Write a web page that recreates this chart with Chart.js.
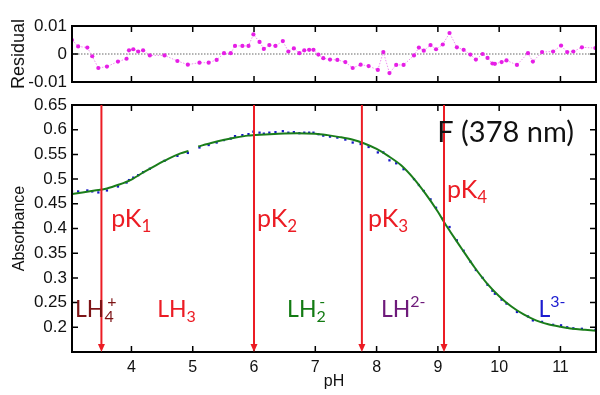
<!DOCTYPE html>
<html>
<head>
<meta charset="utf-8">
<script src="https://cdn.jsdelivr.net/npm/chart.js@4/dist/chart.umd.min.js"></script>
<style>
  body { margin: 0; background: #fff; }
  #wrap { position: relative; width: 600px; height: 395px; }
  #resid { position: absolute; left: 0; top: 0; }
  #main { position: absolute; left: 0; top: 90px; }
</style>
</head>
<body>
<div id="wrap">
  <canvas id="resid" width="600" height="95"></canvas>
  <canvas id="main" width="600" height="305"></canvas>
</div>
<script>
// measured points (pH, absorbance) and residuals
const dataPH = [3.03, 3.13, 3.28, 3.36, 3.46, 3.60, 3.78, 3.92, 3.96, 4.03, 4.11, 4.19, 4.30, 4.54, 4.75, 4.92,
  5.11, 5.26, 5.39, 5.51, 5.62, 5.69, 5.81, 5.91, 5.99, 6.09, 6.16, 6.25, 6.35, 6.47, 6.56, 6.65, 6.74, 6.82,
  6.90, 6.97, 7.05, 7.13, 7.24, 7.36, 7.49, 7.61, 7.74, 7.87, 8.02, 8.11, 8.21, 8.32, 8.44, 8.61, 8.69, 8.77,
  8.88, 8.97, 9.08, 9.19, 9.31, 9.42, 9.53, 9.62, 9.73, 9.81, 9.89, 9.93, 10.04, 10.12, 10.29, 10.47, 10.55,
  10.70, 10.88, 11.01, 11.11, 11.21, 11.35, 11.57];
const dataAbs = [0.475, 0.475, 0.477, 0.475, 0.473, 0.477, 0.485, 0.493, 0.498, 0.503, 0.508, 0.514, 0.521, 0.537, 0.547, 0.553,
  0.564, 0.569, 0.574, 0.579, 0.582, 0.587, 0.589, 0.591, 0.596, 0.594, 0.592, 0.594, 0.595, 0.597, 0.594, 0.595, 0.593, 0.594,
  0.594, 0.594, 0.591, 0.588, 0.586, 0.584, 0.580, 0.574, 0.571, 0.565, 0.554, 0.554, 0.538, 0.532, 0.520, 0.500, 0.488, 0.476,
  0.459, 0.442, 0.420, 0.403, 0.376, 0.355, 0.333, 0.316, 0.300, 0.286, 0.274, 0.268, 0.256, 0.248, 0.231, 0.222, 0.214,
  0.211, 0.205, 0.204, 0.200, 0.198, 0.197, 0.195];
const residual = [0.0050, 0.0027, 0.0023, -0.0008, -0.0050, -0.0045, -0.0027, -0.0017, 0.0013, 0.0017, 0.0009, 0.0013, -0.0005, -0.0005, -0.0025, -0.0038,
  -0.0031, -0.0031, -0.0021, 0.0003, 0.0003, 0.0029, 0.0029, 0.0029, 0.0070, 0.0043, 0.0018, 0.0032, 0.0029, 0.0046, 0.0009, 0.0020, 0.0003, 0.0013,
  0.0015, 0.0015, -0.0002, -0.0015, -0.0020, -0.0021, -0.0029, -0.0050, -0.0038, -0.0043, -0.0057, 0.0007, -0.0068, -0.0039, -0.0039, -0.0005, 0.0023, 0.0012,
  0.0032, 0.0017, 0.0034, 0.0075, 0.0024, 0.0015, -0.0002, -0.0020, 0.0000, -0.0014, -0.0034, -0.0035, -0.0029, -0.0023, -0.0039, 0.0003, -0.0027,
  0.0007, 0.0009, 0.0030, 0.0007, 0.0009, 0.0024, 0.0021];

// fitted curve (null = gap in the fit)
const fitPH = [3.03, 3.2, 3.4, 3.6, 3.8, 4.0, 4.2, 4.4, 4.6, 4.8, 4.93, 5.0, 5.09, 5.3, 5.5, 5.7, 5.9, 6.1, 6.4, 6.7,
  7.0, 7.2, 7.4, 7.6, 7.8, 8.0, 8.2, 8.4, 8.6, 8.8, 9.0, 9.1, 9.2, 9.4, 9.6, 9.8, 10.0, 10.2, 10.4, 10.6, 10.8,
  11.0, 11.2, 11.4, 11.58];
const fitAbs = [0.470, 0.473, 0.477, 0.481, 0.489, 0.499, 0.514, 0.528, 0.541, 0.552, 0.557, null, 0.566, 0.573, 0.579, 0.584, 0.588, 0.590, 0.592, 0.593,
  0.592, 0.589, 0.585, 0.580, 0.572, 0.561, 0.546, 0.528, 0.502, 0.470, 0.434, 0.413, 0.394, 0.357, 0.321, 0.289, 0.263, 0.242, 0.226, 0.214, 0.206,
  0.201, 0.197, 0.195, 0.193];

const pKValues = [3.51, 6.0, 7.76, 9.1];
const pKSubs = ['1', '2', '3', '4'];
const pHTicks = [4, 5, 6, 7, 8, 9, 10, 11];
const absTicks = [0.2, 0.25, 0.3, 0.35, 0.4, 0.45, 0.5, 0.55, 0.6, 0.65];
const absTickLabels = ['0.2', '0.25', '0.3', '0.35', '0.4', '0.45', '0.5', '0.55', '0.6', '0.65'];
const residTicks = [-0.01, 0, 0.01];
const residTickLabels = ['-0.01', '0', '0.01'];

const tickFont = { family: 'Liberation Sans, Arial, sans-serif', size: 17 };
const annFont = 'Lato, "Open Sans", sans-serif';

// box + inward tick marks on all four sides
const frameTicks = {
  id: 'frameTicks',
  afterDatasetsDraw(chart) {
    const { ctx, chartArea: a, scales: { x, y } } = chart;
    ctx.save();
    ctx.strokeStyle = '#000';
    ctx.lineWidth = 1.5;
    ctx.beginPath();
    x.ticks.forEach(t => {
      const px = x.getPixelForValue(t.value);
      ctx.moveTo(px, a.bottom); ctx.lineTo(px, a.bottom - 6);
      ctx.moveTo(px, a.top); ctx.lineTo(px, a.top + 6);
    });
    y.ticks.forEach(t => {
      const py = y.getPixelForValue(t.value);
      ctx.moveTo(a.left, py); ctx.lineTo(a.left + 6, py);
      ctx.moveTo(a.right, py); ctx.lineTo(a.right - 6, py);
    });
    ctx.stroke();
    ctx.lineWidth = 2;
    ctx.strokeRect(a.left, a.top, a.width, a.height);
    ctx.restore();
  }
};

// dotted zero line in the residual panel
const zeroLine = {
  id: 'zeroLine',
  beforeDatasetsDraw(chart) {
    const { ctx, chartArea: a, scales: { y } } = chart;
    const py = y.getPixelForValue(0);
    ctx.save();
    ctx.strokeStyle = '#9a9a9a';
    ctx.lineWidth = 1.5;
    ctx.setLineDash([1.5, 1.5]);
    ctx.beginPath();
    ctx.moveTo(a.left, py); ctx.lineTo(a.right, py);
    ctx.stroke();
    ctx.restore();
  }
};

function drawRich(ctx, x, y, size, color, base, sub, sup) {
  ctx.fillStyle = color;
  ctx.font = size + 'px ' + annFont;
  ctx.textBaseline = 'alphabetic';
  ctx.textAlign = 'left';
  ctx.fillText(base, x, y);
  let w = ctx.measureText(base).width;
  const small = Math.round(size * 0.68);
  ctx.font = small + 'px ' + annFont;
  if (sub) ctx.fillText(sub, x + w, y + size * 0.22);
  if (sup) ctx.fillText(sup, x + w + (sub ? ctx.measureText(sub).width * 0.3 : 0), y - size * 0.42);
}

// pK arrows and the species labels
const annotations = {
  id: 'annotations',
  afterDatasetsDraw(chart) {
    const { ctx, chartArea: a, scales: { x, y } } = chart;
    ctx.save();
    ctx.strokeStyle = '#ec1c24';
    ctx.fillStyle = '#ec1c24';
    ctx.lineWidth = 2;
    pKValues.forEach(v => {
      const px = x.getPixelForValue(v);
      ctx.beginPath();
      ctx.moveTo(px, a.top); ctx.lineTo(px, a.bottom - 6);
      ctx.stroke();
      ctx.beginPath();
      ctx.moveTo(px - 3.5, a.bottom - 8); ctx.lineTo(px + 3.5, a.bottom - 8); ctx.lineTo(px, a.bottom);
      ctx.closePath();
      ctx.fill();
    });
    const pKPos = [[3.67, 0.404], [6.05, 0.404], [7.86, 0.404], [9.15, 0.4625]];
    pKPos.forEach((p, i) => {
      drawRich(ctx, x.getPixelForValue(p[0]), y.getPixelForValue(p[1]), 25, '#ec1c24', 'pK', pKSubs[i], null);
    });
    const ly = y.getPixelForValue(0.2206);
    drawRich(ctx, x.getPixelForValue(3.08), ly, 23, '#7d1416', 'LH', '4', '+');
    drawRich(ctx, x.getPixelForValue(4.42), ly, 23, '#ec1c24', 'LH', '3', null);
    drawRich(ctx, x.getPixelForValue(6.54), ly, 23, '#137b13', 'LH', '2', '-');
    drawRich(ctx, x.getPixelForValue(8.07), ly, 23, '#6e1a7a', 'LH', null, '2-');
    drawRich(ctx, x.getPixelForValue(10.64), ly, 23, '#1c1cd0', 'L', null, '3-');
    drawRich(ctx, x.getPixelForValue(8.99), y.getPixelForValue(0.575), 29, '#111', 'F (378 nm)', null, null);
    ctx.restore();
  }
};

new Chart(document.getElementById('resid'), {
  type: 'line',
  data: {
    datasets: [{
      data: dataPH.map((v, i) => ({ x: v, y: residual[i] })),
      borderColor: '#ee90ee',
      borderWidth: 1,
      borderDash: [1.5, 1.5],
      pointBackgroundColor: '#e61ee6',
      pointBorderWidth: 0,
      pointRadius: 2.1,
      tension: 0
    }]
  },
  options: {
    responsive: false,
    animation: false,
    events: [],
    layout: { padding: { top: 26, right: 3, bottom: 13, left: 0 } },
    plugins: { legend: { display: false }, tooltip: { enabled: false } },
    scales: {
      x: {
        type: 'linear', min: 3.03, max: 11.58, display: false,
        afterBuildTicks: s => { s.ticks = pHTicks.map(v => ({ value: v })); }
      },
      y: {
        min: -0.01, max: 0.01,
        grid: { display: false, drawTicks: false },
        border: { display: false },
        afterBuildTicks: s => { s.ticks = residTicks.map(v => ({ value: v })); },
        afterFit: s => { s.width = 72; s.paddingTop = 0; s.paddingBottom = 0; },
        ticks: { color: '#111', font: tickFont, padding: 5, callback: (v, i) => residTickLabels[i] },
        title: { display: true, text: 'Residual', color: '#111', font: { family: tickFont.family, size: 18 }, padding: { top: 8 } }
      }
    }
  },
  plugins: [zeroLine, frameTicks]
});

new Chart(document.getElementById('main'), {
  type: 'line',
  data: {
    datasets: [{
      data: fitPH.map((v, i) => ({ x: v, y: fitAbs[i] })),
      borderColor: '#1a7d1a',
      borderWidth: 2,
      pointRadius: 0,
      spanGaps: false,
      tension: 0.3
    }, {
      data: dataPH.map((v, i) => ({ x: v, y: dataAbs[i] })),
      showLine: false,
      pointStyle: 'rect',
      pointRadius: 1.6,
      pointBorderWidth: 0,
      pointBackgroundColor: '#1515c8'
    }]
  },
  options: {
    responsive: false,
    animation: false,
    events: [],
    layout: { padding: { top: 15, right: 3, bottom: 0, left: 0 } },
    plugins: { legend: { display: false }, tooltip: { enabled: false } },
    scales: {
      x: {
        type: 'linear', min: 3.03, max: 11.58,
        grid: { display: false, drawTicks: false },
        border: { display: false },
        afterBuildTicks: s => { s.ticks = pHTicks.map(v => ({ value: v })); },
        afterFit: s => { s.height = 43; s.paddingLeft = 0; s.paddingRight = 0; },
        ticks: { color: '#111', font: { family: tickFont.family, size: 16 }, padding: 6, maxRotation: 0 },
        title: { display: true, text: 'pH', color: '#111', font: { family: tickFont.family, size: 16 }, padding: { top: 0, bottom: 4 } }
      },
      y: {
        min: 0.15, max: 0.65,
        grid: { display: false, drawTicks: false },
        border: { display: false },
        afterBuildTicks: s => { s.ticks = absTicks.map(v => ({ value: v })); },
        afterFit: s => { s.width = 72; s.paddingTop = 0; s.paddingBottom = 0; },
        ticks: { color: '#111', font: tickFont, padding: 5, callback: (v, i) => absTickLabels[i] },
        title: { display: true, text: 'Absorbance', color: '#111', font: { family: tickFont.family, size: 16 }, padding: { top: 10 } }
      }
    }
  },
  plugins: [frameTicks, annotations]
});
</script>
</body>
</html>
